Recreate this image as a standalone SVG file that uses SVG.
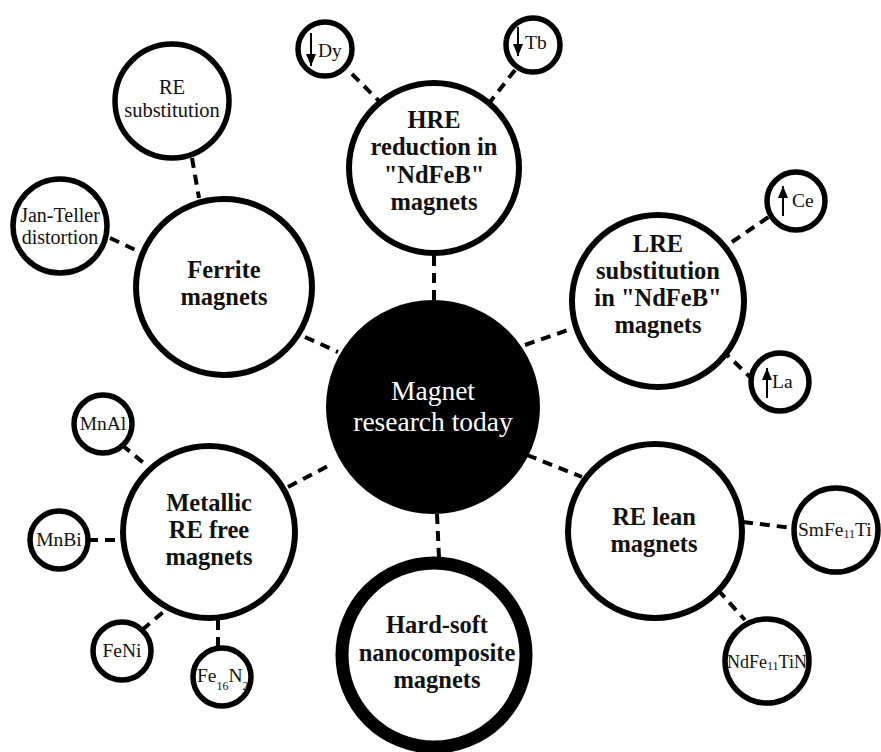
<svg xmlns="http://www.w3.org/2000/svg" width="881" height="752" viewBox="0 0 881 752">
  <defs>
    <marker id="tip" viewBox="0 0 12 10" refX="12" refY="5" markerWidth="12" markerHeight="10" markerUnits="userSpaceOnUse" orient="auto">
      <path d="M0,0 L12,5 L0,10 Z" fill="#000"/>
    </marker>
    <style>
      .node{fill:#fff;stroke:#000;stroke-width:6}
      .leaf{fill:#fff;stroke:#000;stroke-width:5.5}
      #connectors line{stroke:#000;stroke-width:4;stroke-dasharray:10 7;fill:none}
      .b{font-family:"Liberation Serif",serif;font-weight:bold;font-size:24.5px;text-anchor:middle;fill:#111}
      .r{font-family:"Liberation Serif",serif;font-size:19.5px;fill:#111}
      .c{text-anchor:middle}
      .sub{font-size:12px}
      .arrow{stroke:#000;stroke-width:2;marker-end:url(#tip)}
    </style>
  </defs>
  <rect width="881" height="752" fill="#fff"/>

  <!-- dashed links -->
  <g id="connectors">
    <line x1="352" y1="74" x2="380" y2="102"/>
    <line x1="515" y1="70" x2="490" y2="102"/>
    <line x1="434" y1="256" x2="434" y2="300"/>
    <line x1="192" y1="158" x2="199" y2="198"/>
    <line x1="110" y1="238" x2="142" y2="253"/>
    <line x1="305" y1="337" x2="338" y2="352"/>
    <line x1="525" y1="345" x2="568" y2="330"/>
    <line x1="732" y1="242" x2="770" y2="216"/>
    <line x1="722" y1="350" x2="750" y2="377"/>
    <line x1="288" y1="487" x2="328" y2="466"/>
    <line x1="122" y1="445" x2="146" y2="465"/>
    <line x1="88" y1="540" x2="121" y2="540"/>
    <line x1="142" y1="630" x2="168" y2="608"/>
    <line x1="218" y1="620" x2="218" y2="647"/>
    <line x1="527" y1="455" x2="582" y2="477"/>
    <line x1="743" y1="522" x2="792" y2="528"/>
    <line x1="718" y1="590" x2="745" y2="620"/>
    <line x1="437" y1="514" x2="439" y2="558"/>
  </g>

  <!-- hub -->
  <g id="hub">
    <circle cx="433" cy="407" r="107" fill="#000"/>
    <text class="r c" x="433" y="400" style="font-size:27.5px;fill:#fff">Magnet</text>
    <text class="r c" x="433" y="431" style="font-size:27.5px;fill:#fff">research today</text>
  </g>

  <!-- main branches -->
  <g id="hre">
    <circle class="node" cx="434" cy="168" r="85"/>
    <text class="b" x="434" y="128">HRE</text>
    <text class="b" x="434" y="155">reduction in</text>
    <text class="b" x="434" y="183">"NdFeB"</text>
    <text class="b" x="434" y="210">magnets</text>
  </g>
  <g id="ferrite">
    <circle class="node" cx="224" cy="287" r="88"/>
    <text class="b" x="224" y="278">Ferrite</text>
    <text class="b" x="224" y="305">magnets</text>
  </g>
  <g id="lre">
    <circle class="node" cx="658" cy="301" r="86"/>
    <text class="b" x="658" y="252">LRE</text>
    <text class="b" x="658" y="279">substitution</text>
    <text class="b" x="658" y="306">in "NdFeB"</text>
    <text class="b" x="658" y="333">magnets</text>
  </g>
  <g id="metallic">
    <circle class="node" cx="209" cy="532" r="86"/>
    <text class="b" x="209" y="511">Metallic</text>
    <text class="b" x="209" y="538">RE free</text>
    <text class="b" x="209" y="565">magnets</text>
  </g>
  <g id="re-lean">
    <circle class="node" cx="655" cy="531" r="87"/>
    <text class="b" x="654" y="525">RE lean</text>
    <text class="b" x="654" y="552">magnets</text>
  </g>
  <g id="hard-soft">
    <circle cx="434" cy="655" r="92" fill="#fff" stroke="#000" stroke-width="13"/>
    <text class="b" x="437" y="633">Hard-soft</text>
    <text class="b" x="437" y="661">nanocomposite</text>
    <text class="b" x="437" y="688">magnets</text>
  </g>

  <!-- leaves -->
  <g id="dy">
    <circle class="leaf" cx="325" cy="49" r="27"/>
    <line class="arrow" x1="311" y1="33" x2="311" y2="66"/>
    <text class="r" x="318" y="57">Dy</text>
  </g>
  <g id="tb">
    <circle class="leaf" cx="533" cy="45" r="27"/>
    <line class="arrow" x1="518" y1="27" x2="518" y2="56"/>
    <text class="r" x="525" y="49">Tb</text>
  </g>
  <g id="re-substitution">
    <circle class="leaf" cx="172" cy="101" r="57"/>
    <text class="r c" x="172" y="94" style="font-size:20.5px">RE</text>
    <text class="r c" x="172" y="117" style="font-size:20.5px">substitution</text>
  </g>
  <g id="jan-teller">
    <circle class="leaf" cx="60" cy="226" r="47"/>
    <text class="r c" x="60" y="222" style="font-size:20px">Jan-Teller</text>
    <text class="r c" x="60" y="244" style="font-size:20px">distortion</text>
  </g>
  <g id="ce">
    <circle class="leaf" cx="796" cy="201" r="29"/>
    <line class="arrow" x1="783" y1="216" x2="783" y2="186"/>
    <text class="r" x="792" y="207">Ce</text>
  </g>
  <g id="la">
    <circle class="leaf" cx="780" cy="382" r="29"/>
    <line class="arrow" x1="767" y1="398" x2="767" y2="368"/>
    <text class="r" x="772" y="388">La</text>
  </g>
  <g id="mnal">
    <circle class="leaf" cx="103" cy="424" r="29"/>
    <text class="r c" x="103" y="430">MnAl</text>
  </g>
  <g id="mnbi">
    <circle class="leaf" cx="59" cy="540" r="29"/>
    <text class="r c" x="59" y="546">MnBi</text>
  </g>
  <g id="feni">
    <circle class="leaf" cx="122" cy="651" r="29"/>
    <text class="r c" x="122" y="657">FeNi</text>
  </g>
  <g id="fe16n2">
    <circle class="leaf" cx="222" cy="677" r="29"/>
    <text class="r" x="197" y="682">Fe<tspan class="sub" dy="8">16</tspan><tspan dy="-8">N</tspan><tspan class="sub" dy="8">2</tspan></text>
  </g>
  <g id="smfe11ti">
    <circle class="leaf" cx="836" cy="530" r="42"/>
    <text class="r" x="798" y="536">SmFe<tspan class="sub" dy="2">11</tspan><tspan dy="-2">Ti</tspan></text>
  </g>
  <g id="ndfe11tin">
    <circle class="leaf" cx="767" cy="661" r="42"/>
    <text class="r" x="727" y="668" style="font-size:18px">NdFe<tspan class="sub" dy="2">11</tspan><tspan dy="-2">TiN</tspan></text>
  </g>
</svg>
